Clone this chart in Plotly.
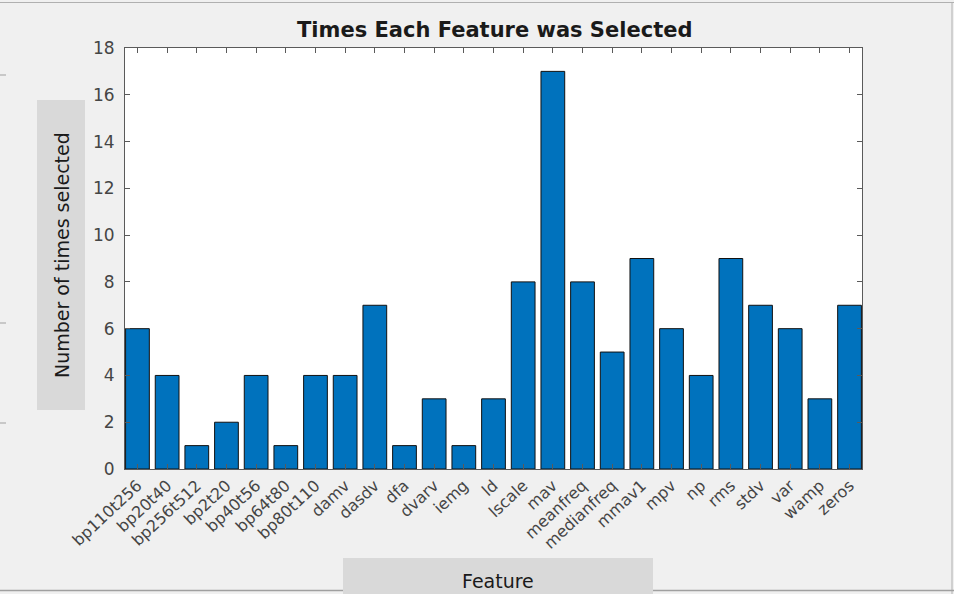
import plotly.graph_objects as go

features = ["bp110t256", "bp20t40", "bp256t512", "bp2t20", "bp40t56", "bp64t80",
            "bp80t110", "damv", "dasdv", "dfa", "dvarv", "iemg", "ld", "lscale",
            "mav", "meanfreq", "medianfreq", "mmav1", "mpv", "np", "rms", "stdv",
            "var", "wamp", "zeros"]
counts = [6, 4, 1, 2, 4, 1, 4, 4, 7, 1, 3, 1, 3, 8, 17, 8, 5, 9, 6, 4, 9, 7, 6, 3, 7]
y_ticks = [0, 2, 4, 6, 8, 10, 12, 14, 16, 18]

W, H = 954, 594
L, R, T, B = 125, 862, 48, 469

def px(x):
    return (x - L) / (R - L)

def py(y):
    return (B - y) / (B - T)

fig = go.Figure(go.Bar(
    x=list(range(len(features))), y=counts,
    marker=dict(color="#0072BD", line=dict(color="#111111", width=1)),
    width=0.8,
))

font = "DejaVu Sans, Verdana, sans-serif"
axis_col = "#5a5a5a"

def hline(x0, x1, y, col="#b0b0b0", w=1):
    return dict(type="line", xref="paper", yref="paper",
                x0=px(x0), x1=px(x1), y0=py(y), y1=py(y),
                line=dict(color=col, width=w))

fig.update_layout(
    width=W, height=H,
    margin=dict(l=L, r=W - R, t=T, b=H - B),
    paper_bgcolor="#f0f0f0", plot_bgcolor="#ffffff",
    showlegend=False,
    font=dict(family=font, size=14, color="#404040"),
    xaxis=dict(
        range=[-0.42, 24.42],
        tickmode="array", tickvals=list(range(len(features))), ticktext=features,
        tickangle=-43, ticks="inside", ticklen=5, tickcolor=axis_col,
        showline=True, linecolor=axis_col, linewidth=1, mirror="ticks",
        showgrid=False, zeroline=False,
        tickfont=dict(size=16, color="#454545"),
    ),
    yaxis=dict(
        range=[0, 18], tickmode="array", tickvals=y_ticks,
        ticks="inside", ticklen=5, tickcolor=axis_col,
        showline=True, linecolor=axis_col, linewidth=1, mirror="ticks",
        showgrid=False, zeroline=False,
        tickfont=dict(size=17, color="#454545"),
        ticklabelstandoff=6,
    ),
    shapes=[
        dict(type="rect", xref="paper", yref="paper",
             x0=px(37), x1=px(85), y0=py(410), y1=py(100),
             fillcolor="#d9d9d9", line=dict(width=0), layer="below"),
        dict(type="rect", xref="paper", yref="paper",
             x0=px(343), x1=px(653), y0=py(594), y1=py(558),
             fillcolor="#d9d9d9", line=dict(width=0), layer="below"),
        hline(0, 954, 2.5),
        dict(type="line", xref="paper", yref="paper",
             x0=px(952), x1=px(952), y0=py(2), y1=py(594),
             line=dict(color="#b0b0b0", width=1)),
        hline(0, 343, 590.5, "#a0a0a0", 1.5),
        hline(653, 954, 590.5, "#a0a0a0", 1.5),
        hline(0, 6, 75, "#a0a0a0", 1),
        hline(0, 6, 323, "#a0a0a0", 1),
        hline(0, 6, 423, "#a0a0a0", 1),
    ],
    annotations=[
        dict(text="<b>Times Each Feature was Selected</b>", xref="paper", yref="paper",
             x=px(494), y=py(30), xanchor="center", yanchor="middle", showarrow=False,
             font=dict(family=font, size=21, color="#1a1a1a")),
        dict(text="Number of times selected", xref="paper", yref="paper",
             x=px(62), y=py(255), xanchor="center", yanchor="middle",
             showarrow=False, textangle=-90,
             font=dict(family=font, size=19, color="#1a1a1a")),
        dict(text="Feature", xref="paper", yref="paper",
             x=px(498), y=py(581), xanchor="center", yanchor="middle", showarrow=False,
             font=dict(family=font, size=19, color="#1a1a1a")),
    ],
)

fig.write_html("out.html", config={"displayModeBar": False},
               post_script="document.body.style.margin='0';document.body.style.background='#f0f0f0';")
